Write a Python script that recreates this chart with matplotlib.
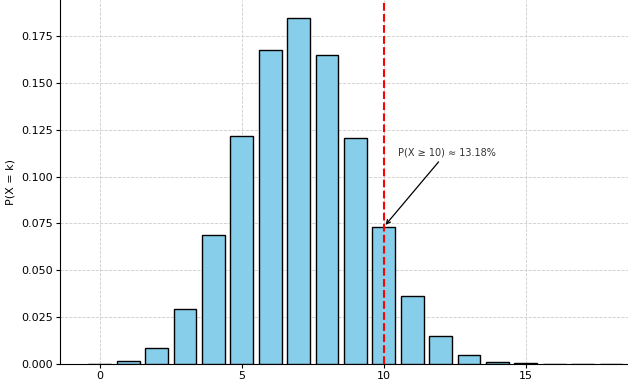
import numpy as np
import matplotlib.pyplot as plt

k = np.arange(0, 21)
pk = [0.0002, 0.0016, 0.0086, 0.0294, 0.0689, 0.1215, 0.1673, 0.1844, 0.1647,
      0.1207, 0.0731, 0.0364, 0.0150, 0.0049, 0.0012, 0.0003, 0.00005, 0.0, 0.0, 0.0, 0.0]
threshold = 10
label = "P(X ≥ 10) ≈ 13.18%"

fig = plt.figure(figsize=(6.28, 3.81), dpi=100)
ax = fig.add_axes([60 / 628, 17 / 381, 1 - 60 / 628, 1 - 17 / 381])

ax.bar(k, pk, width=0.8, color="skyblue", edgecolor="black", linewidth=1, zorder=3)
ax.axvline(threshold, color="red", linestyle="--", linewidth=1.5, zorder=4)
ax.annotate(label, xy=(threshold, pk[threshold]), xytext=(10.5, 0.1115),
            fontsize=7, color="#333333",
            arrowprops=dict(arrowstyle="->", color="black", lw=0.9), zorder=5)

ax.set_xlim(-1.4, 18.6)
ax.set_ylim(0, 0.1942)
ax.set_xticks([0, 5, 10, 15])
ax.set_yticks(np.arange(0, 0.176, 0.025))
ax.set_ylabel("P(X = k)", fontsize=8, labelpad=4)
ax.tick_params(labelsize=8, length=3, pad=2)
ax.grid(True, linestyle="--", color="#cccccc", linewidth=0.6, zorder=0)
ax.spines["top"].set_visible(False)
ax.spines["right"].set_visible(False)

fig.savefig("out.png", dpi=100)
